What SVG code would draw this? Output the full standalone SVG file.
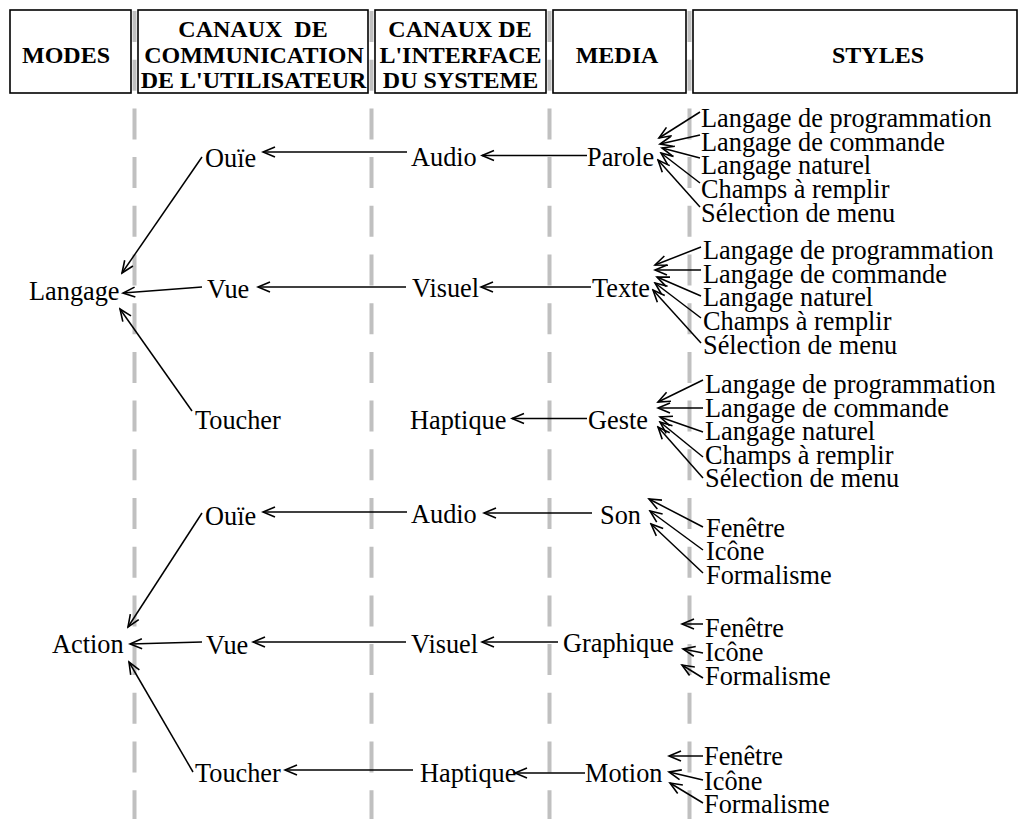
<svg xmlns="http://www.w3.org/2000/svg" width="1022" height="819" viewBox="0 0 1022 819">
  <style>
    .hdr { fill: #fff; stroke: #000; stroke-width: 1.6; }
    .ht { font-family: "Liberation Serif", "Times New Roman", serif; font-weight: bold; font-size: 24px; fill: #000; text-anchor: middle; }
    .t { font-family: "Liberation Serif", "Times New Roman", serif; font-size: 26.3px; fill: #000; }
    .lane { stroke: #c0c0c0; stroke-width: 4; stroke-dasharray: 31 17.7; fill: none; }
    .c { stroke: #000; stroke-width: 1.5; fill: none; marker-end: url(#ah); }
  </style>
  <defs>
    <marker id="ah" viewBox="-14 -7 16 14" refX="0" refY="0" markerWidth="16" markerHeight="14" markerUnits="userSpaceOnUse" orient="auto">
      <path d="M-12,-5 L0,0 L-12,5" fill="none" stroke="#000" stroke-width="1.6"/>
    </marker>
  </defs>
  <rect width="1022" height="819" fill="#fff"/>

  <!-- column separators -->
  <g id="lanes">
    <line class="lane" x1="134.5" y1="11" x2="134.5" y2="819"/>
    <line class="lane" x1="371.5" y1="11" x2="371.5" y2="819"/>
    <line class="lane" x1="549.5" y1="11" x2="549.5" y2="819"/>
    <line class="lane" x1="689.5" y1="11" x2="689.5" y2="819"/>
  </g>

  <!-- column headers -->
  <g id="hdr-modes">
    <rect class="hdr" x="10" y="10" width="121" height="83"/>
    <text class="ht" x="66" y="62.5">MODES</text>
  </g>
  <g id="hdr-canaux-utilisateur">
    <rect class="hdr" x="138" y="10" width="230" height="83"/>
    <text class="ht" x="253" y="37" xml:space="preserve">CANAUX  DE</text>
    <text class="ht" x="254" y="62.5">COMMUNICATION</text>
    <text class="ht" x="253.5" y="88">DE L'UTILISATEUR</text>
  </g>
  <g id="hdr-canaux-systeme">
    <rect class="hdr" x="375" y="10" width="171" height="83"/>
    <text class="ht" x="460" y="37">CANAUX DE</text>
    <text class="ht" x="460.5" y="62.5">L'INTERFACE</text>
    <text class="ht" x="460.5" y="88">DU SYSTEME</text>
  </g>
  <g id="hdr-media">
    <rect class="hdr" x="553" y="10" width="133" height="83"/>
    <text class="ht" x="617" y="62.5">MEDIA</text>
  </g>
  <g id="hdr-styles">
    <rect class="hdr" x="693" y="10" width="324" height="83"/>
    <text class="ht" x="878" y="62.5">STYLES</text>
  </g>

  <!-- connectors -->
  <g id="connectors">
    <!-- langage branch -->
    <line class="c" x1="587" y1="155.5" x2="482" y2="155.5"/>
    <line class="c" x1="407" y1="152" x2="263" y2="152"/>
    <line class="c" x1="202" y1="157" x2="122" y2="273"/>
    <line class="c" x1="591" y1="287" x2="481" y2="287"/>
    <line class="c" x1="406" y1="287" x2="258" y2="287"/>
    <line class="c" x1="202" y1="287" x2="123" y2="293"/>
    <line class="c" x1="587" y1="418.5" x2="512" y2="418.5"/>
    <line class="c" x1="192" y1="411" x2="120" y2="309"/>
    <!-- action branch -->
    <line class="c" x1="592" y1="513" x2="484" y2="513"/>
    <line class="c" x1="407" y1="512" x2="263" y2="512"/>
    <line class="c" x1="202" y1="513" x2="128" y2="627"/>
    <line class="c" x1="558" y1="642" x2="482" y2="642"/>
    <line class="c" x1="406" y1="642" x2="253" y2="642"/>
    <line class="c" x1="202" y1="642" x2="130" y2="644"/>
    <line class="c" x1="585" y1="773" x2="515" y2="773"/>
    <line class="c" x1="413" y1="770" x2="285" y2="770"/>
    <line class="c" x1="193" y1="772" x2="129" y2="662"/>
    <!-- styles of Parole -->
    <line class="c" x1="700" y1="112" x2="659" y2="138"/>
    <line class="c" x1="700" y1="135" x2="660" y2="144"/>
    <line class="c" x1="700" y1="158" x2="662" y2="148"/>
    <line class="c" x1="700" y1="183" x2="661" y2="153"/>
    <line class="c" x1="700" y1="207" x2="658" y2="160"/>
    <!-- styles of Texte -->
    <line class="c" x1="701" y1="247" x2="655" y2="265"/>
    <line class="c" x1="701" y1="270" x2="655" y2="270"/>
    <line class="c" x1="701" y1="296" x2="657" y2="277"/>
    <line class="c" x1="701" y1="318" x2="655" y2="283"/>
    <line class="c" x1="701" y1="343" x2="653" y2="290"/>
    <!-- styles of Geste -->
    <line class="c" x1="703" y1="380" x2="658" y2="402"/>
    <line class="c" x1="703" y1="408" x2="658" y2="408"/>
    <line class="c" x1="703" y1="432" x2="660" y2="417"/>
    <line class="c" x1="703" y1="457" x2="660" y2="422"/>
    <line class="c" x1="703" y1="478" x2="658" y2="427"/>
    <!-- styles of Son -->
    <line class="c" x1="703" y1="527" x2="649" y2="499"/>
    <line class="c" x1="703" y1="550" x2="650" y2="511"/>
    <line class="c" x1="703" y1="573" x2="651" y2="524"/>
    <!-- styles of Graphique -->
    <line class="c" x1="703" y1="624" x2="682" y2="624"/>
    <line class="c" x1="703" y1="653" x2="683" y2="649"/>
    <line class="c" x1="703" y1="678" x2="682" y2="665"/>
    <!-- styles of Motion -->
    <line class="c" x1="703" y1="756" x2="669" y2="756"/>
    <line class="c" x1="703" y1="780" x2="669" y2="772"/>
    <line class="c" x1="703" y1="803" x2="670" y2="783"/>
  </g>

  <!-- modes -->
  <g id="n-langage"><text class="t" x="29" y="300">Langage</text></g>
  <g id="n-action"><text class="t" x="52" y="653">Action</text></g>

  <!-- user channels -->
  <g id="n-ouie-1"><text class="t" x="205" y="167">Ouïe</text></g>
  <g id="n-vue-1"><text class="t" x="207" y="298">Vue</text></g>
  <g id="n-toucher-1"><text class="t" x="195" y="429">Toucher</text></g>
  <g id="n-ouie-2"><text class="t" x="205" y="525">Ouïe</text></g>
  <g id="n-vue-2"><text class="t" x="206" y="654">Vue</text></g>
  <g id="n-toucher-2"><text class="t" x="195" y="782">Toucher</text></g>

  <!-- system channels -->
  <g id="n-audio-1"><text class="t" x="411" y="166">Audio</text></g>
  <g id="n-visuel-1"><text class="t" x="412" y="297">Visuel</text></g>
  <g id="n-haptique-1"><text class="t" x="410" y="429">Haptique</text></g>
  <g id="n-audio-2"><text class="t" x="411" y="523">Audio</text></g>
  <g id="n-visuel-2"><text class="t" x="411" y="653">Visuel</text></g>
  <g id="n-haptique-2"><text class="t" x="420" y="782">Haptique</text></g>

  <!-- media -->
  <g id="n-parole"><text class="t" x="587" y="166">Parole</text></g>
  <g id="n-texte"><text class="t" x="592" y="297">Texte</text></g>
  <g id="n-geste"><text class="t" x="588" y="429">Geste</text></g>
  <g id="n-son"><text class="t" x="600" y="524">Son</text></g>
  <g id="n-graphique"><text class="t" x="563" y="652">Graphique</text></g>
  <g id="n-motion"><text class="t" x="585" y="782">Motion</text></g>

  <!-- styles -->
  <g id="s-parole">
    <text class="t" x="701" y="127">Langage de programmation</text>
    <text class="t" x="701" y="150.5">Langage de commande</text>
    <text class="t" x="701" y="174">Langage naturel</text>
    <text class="t" x="701" y="198">Champs à remplir</text>
    <text class="t" x="701" y="222">Sélection de menu</text>
  </g>
  <g id="s-texte">
    <text class="t" x="703" y="259">Langage de programmation</text>
    <text class="t" x="703" y="282.5">Langage de commande</text>
    <text class="t" x="703" y="306">Langage naturel</text>
    <text class="t" x="703" y="330">Champs à remplir</text>
    <text class="t" x="703" y="354">Sélection de menu</text>
  </g>
  <g id="s-geste">
    <text class="t" x="705" y="393">Langage de programmation</text>
    <text class="t" x="705" y="417">Langage de commande</text>
    <text class="t" x="705" y="440">Langage naturel</text>
    <text class="t" x="705" y="464">Champs à remplir</text>
    <text class="t" x="705" y="487">Sélection de menu</text>
  </g>
  <g id="s-son">
    <text class="t" x="706" y="537">Fenêtre</text>
    <text class="t" x="706" y="560">Icône</text>
    <text class="t" x="706" y="584">Formalisme</text>
  </g>
  <g id="s-graphique">
    <text class="t" x="705" y="637">Fenêtre</text>
    <text class="t" x="705" y="661">Icône</text>
    <text class="t" x="705" y="685">Formalisme</text>
  </g>
  <g id="s-motion">
    <text class="t" x="704" y="765">Fenêtre</text>
    <text class="t" x="704" y="790">Icône</text>
    <text class="t" x="704" y="813">Formalisme</text>
  </g>
</svg>
